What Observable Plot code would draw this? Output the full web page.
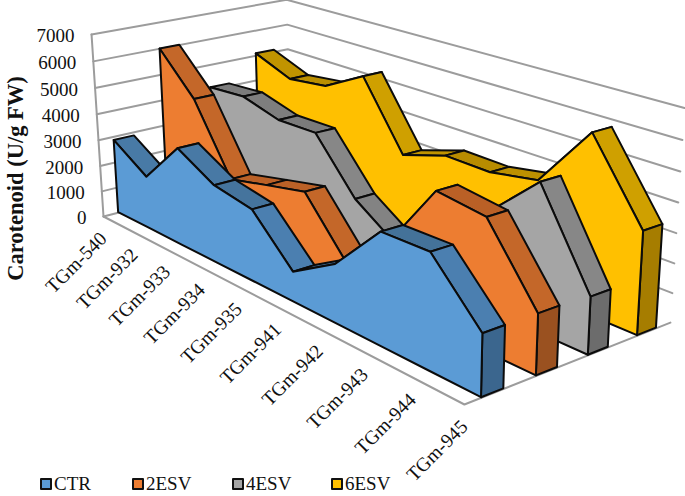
<!DOCTYPE html>
<html><head><meta charset="utf-8">
<script src="https://cdn.jsdelivr.net/npm/d3@7"></script>
<script src="https://cdn.jsdelivr.net/npm/@observablehq/plot@0.6"></script>
<style>
html,body{margin:0;padding:0;background:#fff}
#wrap{position:relative;width:685px;height:496px;overflow:hidden}
#legend{position:absolute;left:0;top:474px;width:400px;height:20px;font:19px "Liberation Serif",serif;color:#111}
.it{position:absolute;top:0;height:20px;line-height:20px;white-space:nowrap}
.sw{position:absolute;top:4px;left:0;width:8px;height:8px;border:2px solid #111;border-radius:1px}
.lb{position:absolute;left:14px;top:0}
</style></head><body><div id="wrap"><div id="chart"></div><div id="legend"></div></div>
<script>
const categories = ["TGm-540","TGm-932","TGm-933","TGm-934","TGm-935","TGm-941","TGm-942","TGm-943","TGm-944","TGm-945"];
const ctr  = [2860,1990,3620,2840,2580,1055,2010,3730,3760,1985];
const esv2 = [5990,4510,1990,2350,2700,820,2200,4515,4300,1970];
const esv4 = [4090,4200,3790,3820,1935,880,2000,3310,4900,1890];
const esv6 = [5070,4490,4680,5510,3080,3610,3580,3885,6010,3440];
const valueTicks = [0,1000,2000,3000,4000,5000,6000,7000];
const seriesNames = ["CTR","2ESV","4ESV","6ESV"];
const seriesValues = [ctr,esv2,esv4,esv6];
const frontColors = ["#5B9BD5","#ED7D31","#A5A5A5","#FFC000"];
const steepColors = ["#4B7FB0","#C46729","#878787","#CFA000"];
const flatColors  = ["#447299","#B85F26","#7B7B7B","#B88C00"];
const capColors   = ["#3B668E","#9A5120","#6C6C6C","#A67D00"];
const maxValue = 7000;

// perspective view of the chart box: u along categories, w in depth, v up
const A=[244,212.1,-15.6,103], B=[86.2,-33.4,-183.4,216], D=[-0.252,0.0866,-0.04,1];
const project=(u,w,val)=>{const v=val/maxValue,q=D[0]*u+D[1]*w+D[2]*v+D[3];
  return [(A[0]*u+A[1]*w+A[2]*v+A[3])/q,(B[0]*u+B[1]*w+B[2]*v+B[3])/q];};
const uOf=i=>i/(categories.length-1);

const faces=[]; let fid=0;
const quad=(p1,p2,p3,p4,color)=>{const id=fid++;
  faces.push({id,color,x1:p1[0],y1:p1[1],x2:p4[0],y2:p4[1]},{id,color,x1:p2[0],y1:p2[1],x2:p3[0],y2:p3[1]});};
for(let s=seriesValues.length-1;s>=0;s--){
  const vals=seriesValues[s], w0=(s+.5)/4-.05, w1=(s+.5)/4+.05, last=vals.length-1;
  for(let i=0;i<last;i++){
    const k=Math.min(1,Math.abs(vals[i+1]-vals[i])/1500);
    quad(project(uOf(i),w0,vals[i]),project(uOf(i+1),w0,vals[i+1]),project(uOf(i+1),w1,vals[i+1]),project(uOf(i),w1,vals[i]),
      d3.interpolateRgb(flatColors[s],steepColors[s])(k));
  }
  quad(project(1,w0,vals[last]),project(1,w1,vals[last]),project(1,w1,0),project(1,w0,0),capColors[s]);
  const id=fid++;
  vals.forEach((val,i)=>{const t=project(uOf(i),w0,val),b=project(uOf(i),w0,0);
    faces.push({id,color:frontColors[s],x1:t[0],y1:t[1],x2:b[0],y2:b[1]});});
}
const grid=[];
valueTicks.forEach(val=>{ if(val===0) return;
  [[0,0],[0,1],[1,1]].forEach(([u,w])=>{const p=project(u,w,val);grid.push({k:"v"+val,x:p[0],y:p[1]});});});
[[0,0],[1,0],[1,1]].forEach(([u,w])=>{const p=project(u,w,0);grid.push({k:"floor",x:p[0],y:p[1]});});
[0,maxValue].forEach(val=>{const p=project(0,0,val);grid.push({k:"edge",x:p[0],y:p[1]});});
[[0,0],[0,1]].forEach(([u,w])=>{const p=project(u,w,0);grid.push({k:"floorL",x:p[0],y:p[1]});});

const vLabels=valueTicks.map(val=>{const p=project(0,0,val);return {x:p[0],y:p[1],t:String(val)};});
const cLabels=categories.map((c,i)=>{const p=project(uOf(i),0,0);return {x:p[0],y:p[1],t:c};});

const plot=Plot.plot({
  width:685,height:496,margin:0,
  x:{domain:[0,685],range:[0,685],axis:null},
  y:{domain:[0,496],range:[0,496],axis:null},
  color:{type:"identity"},
  style:{fontFamily:"'Liberation Serif',serif",background:"#fff",color:"#111"},
  marks:[
    Plot.line(grid,{x:"x",y:"y",z:"k",stroke:"#9C9C9C",strokeWidth:2}),
    Plot.area(faces,{x1:"x1",y1:"y1",x2:"x2",y2:"y2",z:"id",fill:"color",stroke:"#0b0b0b",strokeWidth:2,strokeLinejoin:"round"}),
    Plot.text(vLabels,{x:"x",y:"y",text:"t",textAnchor:"end",dx:-17,dy:1.5,fontSize:19,fill:"#111"}),
    Plot.text(cLabels,{x:"x",y:"y",text:"t",textAnchor:"end",rotate:-45,dx:0,dy:19,fontSize:19.5,fill:"#111"}),
    Plot.text(["Carotenoid (U/g FW)"],{x:()=>15,y:()=>178,text:d=>d,rotate:-90,fontSize:22.5,fontWeight:"bold",fill:"#111"})
  ]
});
document.getElementById("chart").appendChild(plot);
const lefts=[40,132,232,331];
const lg=document.getElementById("legend");
seriesNames.forEach((n,i)=>{const it=document.createElement("div");it.className="it";it.style.left=lefts[i]+"px";
  const sw=document.createElement("div");sw.className="sw";sw.style.background=frontColors[i];
  const lb=document.createElement("div");lb.className="lb";lb.textContent=n;it.append(sw,lb);lg.append(it);});
</script></body></html>
